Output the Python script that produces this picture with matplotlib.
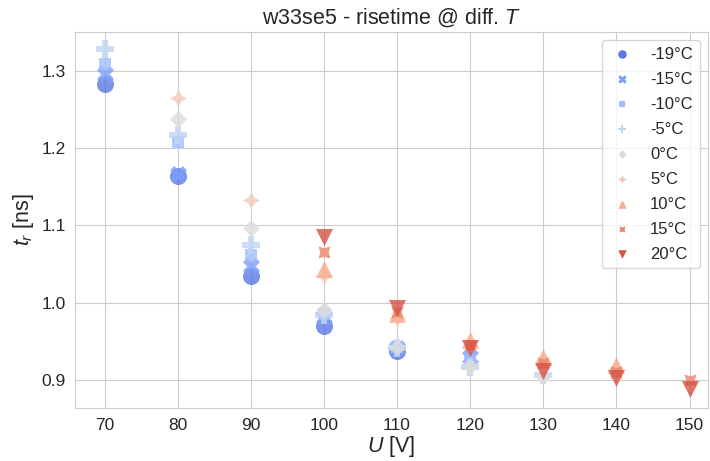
import matplotlib
matplotlib.use("Agg")
import matplotlib.pyplot as plt
import seaborn as sns

sns.set_style("whitegrid")
plt.rcParams['font.family'] = ['Liberation Sans', 'DejaVu Sans']
plt.rcParams['mathtext.fontset'] = 'custom'
plt.rcParams['mathtext.rm'] = 'Liberation Sans'
plt.rcParams['mathtext.it'] = 'Liberation Sans:italic'

# rise time [ns] per temperature, measured at the given bias voltages [V]
temps = [-19, -15, -10, -5, 0, 5, 10, 15, 20]
voltages = {
    -19: [70, 80, 90, 100, 110],
    -15: [70, 80, 90, 100, 110, 120],
    -10: [70, 80, 90, 100, 110, 120],
    -5:  [70, 80, 90, 100, 110, 120, 130],
    0:   [80, 90, 100, 110, 120, 130],
    5:   [80, 90, 100, 110, 120, 130, 140],
    10:  [100, 110, 120, 130, 140],
    15:  [100, 110, 120, 130, 140, 150],
    20:  [100, 110, 120, 130, 140, 150],
}
risetime = {
    -19: [1.283, 1.164, 1.035, 0.970, 0.938],
    -15: [1.296, 1.166, 1.048, 0.982, 0.942, 0.930],
    -10: [1.309, 1.208, 1.062, 0.985, 0.943, 0.925],
    -5:  [1.328, 1.217, 1.074, 0.984, 0.941, 0.917, 0.907],
    0:   [1.237, 1.097, 0.990, 0.943, 0.918, 0.905],
    5:   [1.265, 1.133, 1.035, 0.980, 0.945, 0.925, 0.915],
    10:  [1.043, 0.985, 0.952, 0.930, 0.920],
    15:  [1.066, 0.988, 0.945, 0.922, 0.910, 0.900],
    20:  [1.085, 0.993, 0.942, 0.912, 0.903, 0.888],
}

markers = ["o", "X", (4, 0, 45), "P", (4, 0, 0), (4, 1, 0), "^", (4, 1, 45), "v"]
colors = sns.color_palette("coolwarm", len(temps))

fig = plt.figure(figsize=(7.1, 4.61), dpi=100)
ax = fig.add_axes([0.106, 0.115, 0.891, 0.816])

for t, m, c in zip(temps, markers, colors):
    ax.scatter(voltages[t], risetime[t], s=150, marker=m, color=c, alpha=0.8,
               linewidth=0, label="%d°C" % t, zorder=3)

ax.set_xlim(66, 152.5)
ax.set_ylim(0.864, 1.35)
ax.set_xticks(range(70, 151, 10))
ax.set_yticks([0.9, 1.0, 1.1, 1.2, 1.3])
ax.tick_params(labelsize=12.5)
ax.set_xlabel(r"$U$ [V]", fontsize=15.5, labelpad=1)
ax.set_ylabel(r"$t_r$ [ns]", fontsize=15.5)
ax.set_title(r"w33se5 - risetime @ diff. $T$", fontsize=15.5)

leg = ax.legend(loc="upper right", fontsize=12, markerscale=0.5, frameon=True,
                labelspacing=0.6, handletextpad=0.9, handlelength=1.6)
for h in leg.legend_handles:
    h.set_alpha(1)

fig.savefig("out.png", dpi=100)
